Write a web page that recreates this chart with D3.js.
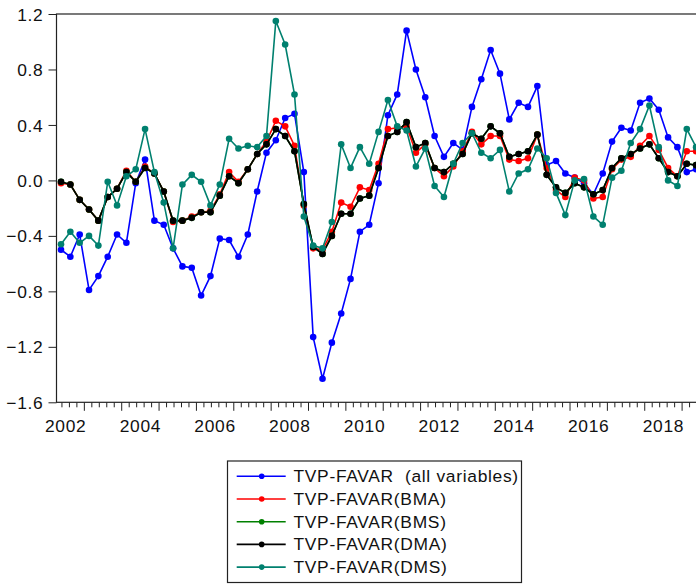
<!DOCTYPE html>
<meta charset="utf-8">
<title>TVP-FAVAR estimates</title>
<script src="https://d3js.org/d3.v7.min.js"></script>
<style>
  body { margin: 0; background: white; }
  svg text { font-family: "Liberation Sans", Arial, sans-serif; font-size: 17.4px; letter-spacing: 0.7px; fill: #111; white-space: pre; }
</style>
<body>
<svg class=chart></svg>
<script>

// quarterly observations, first one is 2002Q2
var first_year = 2002, first_quarter = 2, n_obs = 69;
var quarters = d3.range(n_obs).map(function(i) {
  var q = first_quarter - 1 + i;
  return (first_year + Math.floor(q / 4)) + "Q" + (q % 4 + 1);
});

var all_variables = [-0.50, -0.55, -0.39, -0.79, -0.69, -0.55, -0.39, -0.45, -0.02, 0.15,
  -0.29, -0.32, -0.49, -0.62, -0.63, -0.83, -0.69, -0.42, -0.43, -0.55,
  -0.39, -0.08, 0.20, 0.29, 0.45, 0.48, 0.06, -1.13, -1.43, -1.17,
  -0.96, -0.71, -0.37, -0.32, -0.02, 0.47, 0.62, 1.08, 0.80, 0.60,
  0.32, 0.17, 0.27, 0.22, 0.53, 0.73, 0.94, 0.77, 0.44, 0.56,
  0.53, 0.68, 0.11, 0.14, 0.05, 0.02, -0.02, -0.10, 0.05, 0.28,
  0.38, 0.36, 0.56, 0.59, 0.51, 0.31, 0.24, 0.06, 0.08];

var bma = [-0.02, -0.03, -0.14, -0.21, -0.29, -0.12, -0.06, 0.07, -0.01, 0.10,
  0.05, -0.08, -0.30, -0.29, -0.26, -0.23, -0.22, -0.10, 0.06, -0.01,
  0.08, 0.19, 0.28, 0.43, 0.39, 0.25, -0.18, -0.49, -0.50, -0.37,
  -0.16, -0.19, -0.05, -0.07, 0.12, 0.37, 0.38, 0.39, 0.20, 0.26,
  0.09, 0.03, 0.10, 0.21, 0.35, 0.26, 0.32, 0.32, 0.15, 0.14,
  0.16, 0.33, 0.09, -0.07, -0.12, 0.02, 0.00, -0.13, -0.12, 0.08,
  0.15, 0.17, 0.25, 0.32, 0.22, 0.09, 0.03, 0.21, 0.21];

var bms = [-0.01, -0.03, -0.14, -0.21, -0.29, -0.12, -0.06, 0.06, -0.01, 0.09,
  0.05, -0.08, -0.29, -0.29, -0.27, -0.23, -0.23, -0.11, 0.03, -0.02,
  0.08, 0.19, 0.26, 0.37, 0.32, 0.21, -0.17, -0.48, -0.53, -0.40,
  -0.24, -0.24, -0.13, -0.11, 0.09, 0.32, 0.35, 0.42, 0.24, 0.27,
  0.09, 0.06, 0.12, 0.19, 0.34, 0.30, 0.39, 0.34, 0.17, 0.19,
  0.21, 0.33, 0.04, -0.05, -0.09, -0.02, -0.05, -0.10, -0.07, 0.09,
  0.16, 0.19, 0.23, 0.26, 0.16, 0.06, 0.03, 0.12, 0.11];

var dma = [-0.01, -0.03, -0.14, -0.21, -0.29, -0.12, -0.06, 0.06, -0.01, 0.09,
  0.05, -0.08, -0.29, -0.29, -0.27, -0.23, -0.23, -0.11, 0.03, -0.02,
  0.08, 0.19, 0.26, 0.37, 0.32, 0.21, -0.17, -0.48, -0.53, -0.40,
  -0.24, -0.24, -0.13, -0.11, 0.09, 0.32, 0.35, 0.42, 0.24, 0.27,
  0.09, 0.06, 0.12, 0.19, 0.34, 0.30, 0.39, 0.34, 0.17, 0.19,
  0.21, 0.33, 0.04, -0.05, -0.09, -0.02, -0.05, -0.10, -0.07, 0.09,
  0.16, 0.19, 0.23, 0.26, 0.16, 0.06, 0.03, 0.12, 0.11];

var dms = [-0.46, -0.37, -0.45, -0.40, -0.47, -0.01, -0.18, 0.03, 0.08, 0.37,
  0.06, -0.16, -0.49, -0.03, 0.04, -0.01, -0.18, -0.03, 0.30, 0.23,
  0.25, 0.24, 0.32, 1.15, 0.98, 0.62, -0.26, -0.47, -0.49, -0.30,
  0.26, 0.09, 0.24, 0.12, 0.35, 0.58, 0.39, 0.36, 0.10, 0.23,
  -0.04, -0.12, 0.12, 0.27, 0.34, 0.20, 0.16, 0.22, -0.08, 0.05,
  0.08, 0.23, 0.16, -0.09, -0.25, 0.00, 0.01, -0.26, -0.32, 0.02,
  0.07, 0.27, 0.37, 0.54, 0.24, 0.00, -0.04, 0.37, 0.24];

var series_names = ["TVP-FAVAR  (all variables)", "TVP-FAVAR(BMA)", "TVP-FAVAR(BMS)", "TVP-FAVAR(DMA)", "TVP-FAVAR(DMS)"];
var series_values = [all_variables, bma, bms, dma, dms];
var series_colors = ["#0000ff", "#ff0000", "#008000", "#000000", "#00806f"];

var y_ticks = [-1.6, -1.2, -0.8, -0.4, 0.0, 0.4, 0.8, 1.2];
var year_labels = [2002, 2004, 2006, 2008, 2010, 2012, 2014, 2016, 2018];

var width = 696, height = 585;
var plot_left = 56.5, plot_top = 14, plot_bottom = 402.3;

var svg = d3.select(".chart")
  .attr("width", width)
  .attr("height", height);

svg.append("rect")
  .attr("width", width).attr("height", height)
  .attr("fill", "white");

// time in years, observation drawn in the middle of its quarter
function obs_time(label) {
  return +label.slice(0, 4) + (+label.slice(5) - 1) / 4 + 0.125;
}

var x = d3.scaleLinear().domain([2002, 2019]).range([47, 682.1]);
var y = d3.scaleLinear().domain([-1.6, 1.2]).range([plot_bottom, plot_top]);
var plot_right = x(2019.75);

// frame
svg.append("rect")
  .attr("x", plot_left).attr("y", plot_top)
  .attr("width", plot_right - plot_left).attr("height", plot_bottom - plot_top)
  .attr("fill", "none").attr("stroke", "#222").attr("stroke-width", 1.2);

// y axis
var y_axis = d3.axisLeft(y)
  .tickValues(y_ticks)
  .tickFormat(d3.format(".1f"))
  .tickSize(8)
  .tickPadding(5);

var gy = svg.append("g")
  .attr("transform", "translate(" + plot_left + ",0)")
  .call(y_axis);
gy.select(".domain").remove();
gy.selectAll("line").attr("stroke", "#222");
gy.selectAll("text").attr("font-size", null).attr("font-family", null).attr("dy", "0.35em");

// x axis: yearly major ticks, minor ticks in between
var minor = d3.range(2002.2, 2019.7, 0.2).filter(function(t) {
  return x(t) > plot_left + 1 && Math.abs(t - Math.round(t)) > 0.05;
});
var major = d3.range(2003, 2020);

var gx = svg.append("g").attr("transform", "translate(0," + plot_bottom + ")");
gx.selectAll(".minor").data(minor).enter().append("line")
  .attr("x1", function(d) { return x(d); }).attr("x2", function(d) { return x(d); })
  .attr("y1", 0).attr("y2", 5)
  .attr("stroke", "#222");
gx.selectAll(".major").data(major).enter().append("line")
  .attr("x1", function(d) { return x(d); }).attr("x2", function(d) { return x(d); })
  .attr("y1", 0).attr("y2", 8.5)
  .attr("stroke", "#222");
gx.selectAll("text").data(year_labels).enter().append("text")
  .attr("x", function(d) { return x(d + 0.5); })
  .attr("y", 30)
  .attr("text-anchor", "middle")
  .text(function(d) { return d; });

// series
var line = d3.line()
  .x(function(d, i) { return x(obs_time(quarters[i])); })
  .y(function(d) { return y(d); });

series_values.forEach(function(values, k) {
  var g = svg.append("g");
  g.append("path")
    .datum(values)
    .attr("d", line)
    .attr("fill", "none")
    .attr("stroke", series_colors[k])
    .attr("stroke-width", 1.6);
  g.selectAll("circle")
    .data(values)
    .enter().append("circle")
    .attr("cx", function(d, i) { return x(obs_time(quarters[i])); })
    .attr("cy", function(d) { return y(d); })
    .attr("r", 3.3)
    .attr("fill", series_colors[k]);
});

// legend
var legend_x = 227.5, legend_y = 461, legend_w = 294, legend_h = 121.5, row_h = 22.7;
var legend = svg.append("g");
legend.append("rect")
  .attr("x", legend_x).attr("y", legend_y)
  .attr("width", legend_w).attr("height", legend_h)
  .attr("fill", "white").attr("stroke", "#222").attr("stroke-width", 1.2);

var rows = legend.selectAll(".row")
  .data(series_names)
  .enter().append("g")
  .attr("transform", function(d, i) { return "translate(0," + (476.3 + i * row_h) + ")"; });
rows.append("line")
  .attr("x1", 236.7).attr("x2", 285.7)
  .attr("stroke", function(d, i) { return series_colors[i]; })
  .attr("stroke-width", 1.6);
rows.append("circle")
  .attr("cx", 261.7).attr("r", 2.8)
  .attr("fill", function(d, i) { return series_colors[i]; });
rows.append("text")
  .attr("x", 293.5).attr("y", 6)
  .text(function(d) { return d; });

</script>
</body>
